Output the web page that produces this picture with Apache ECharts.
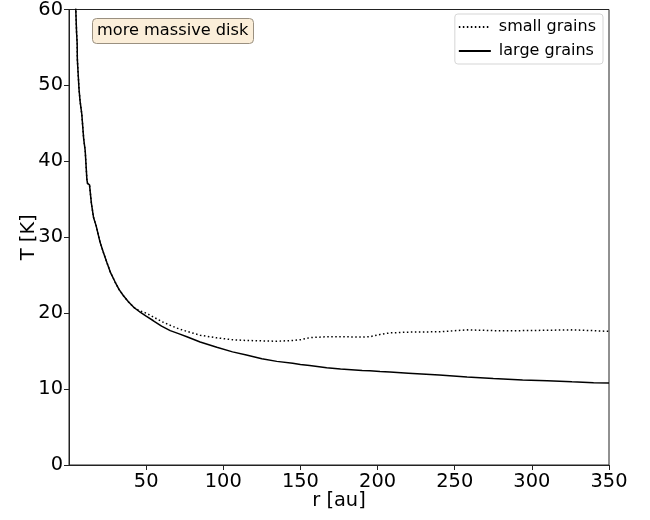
<!DOCTYPE html>
<html>
<head>
<meta charset="utf-8">
<script src="https://cdn.jsdelivr.net/npm/echarts@6/dist/echarts.min.js"></script>
<style>html,body{margin:0;padding:0;background:#fff;}#chart{width:650px;height:520px;}</style>
</head>
<body>
<div id="chart"></div>
<script>
// radius [au]
const rValues = [3.8, 4.4, 4.9, 5.3, 5.4, 5.8, 6.5, 7.2, 8.3, 9.5, 10.5, 11.6, 12.0, 13.3, 14.5, 15.9, 17.6, 20.2, 22.3, 24.5, 27, 29.9, 32.5, 35.3, 38.5, 41.8, 44, 46.1,
  50, 54.7, 60, 65.6, 71, 76.4, 85, 95.8, 106, 115, 125, 134.7, 145, 150, 156, 167, 176, 190, 195, 201.6, 208, 220, 240, 258, 275, 294, 310, 326, 340, 350];
// temperature [K], large grains
const tLarge = [64, 60, 57, 55.5, 53.5, 52, 49.5, 47.9, 46.2, 43, 41.4, 37.6, 37.1, 36.9, 34.5, 32.6, 31.5, 29.3, 28.0, 26.7, 25.3, 24.1, 23.1, 22.3, 21.5, 20.8, 20.45, 20.15,
  19.6, 19.0, 18.3, 17.7, 17.3, 16.9, 16.2, 15.5, 14.9, 14.5, 14.0, 13.65, 13.4, 13.25, 13.1, 12.8, 12.65, 12.45, 12.4, 12.3, 12.25, 12.1, 11.85, 11.6, 11.4, 11.2, 11.1, 10.95, 10.85, 10.8];
// temperature [K], small grains
const tSmall = [64, 60, 57, 55.5, 53.5, 52, 49.5, 47.9, 46.2, 43, 41.4, 37.6, 37.1, 36.9, 34.5, 32.6, 31.5, 29.3, 28.0, 26.7, 25.3, 24.1, 23.1, 22.3, 21.5, 20.8, 20.5, 20.3,
  20.0, 19.5, 18.9, 18.4, 17.95, 17.6, 17.1, 16.75, 16.5, 16.4, 16.35, 16.3, 16.4, 16.5, 16.77, 16.9, 16.9, 16.85, 16.9, 17.2, 17.4, 17.5, 17.55, 17.8, 17.7, 17.7, 17.75, 17.8, 17.7, 17.6];
const xTicks = [50, 100, 150, 200, 250, 300, 350];
const seriesNames = ['small grains', 'large grains'];
const annotation = 'more massive disk';

const font = 'DejaVu Sans';
const pair = (rs, ts) => rs.map((r, i) => [r, ts[i]]);

const chart = echarts.init(document.getElementById('chart'), null, {renderer: 'canvas'});
chart.setOption({
  animation: false,
  title: {
    text: annotation,
    left: 92, top: 18,
    padding: [5, 5, 5, 5],
    backgroundColor: '#fbeed9',
    borderColor: '#9a9080',
    borderWidth: 1,
    borderRadius: 4,
    textStyle: {fontFamily: font, fontSize: 16.2, fontWeight: 'normal', color: '#000'}
  },
  legend: {
    orient: 'vertical',
    right: 47, top: 14,
    padding: [5, 7, 5, 3],
    itemWidth: 32, itemHeight: 13, itemGap: 8,
    backgroundColor: '#fff',
    borderColor: '#d5d5d5', borderWidth: 1, borderRadius: 3,
    itemStyle: {opacity: 0},
    textStyle: {fontFamily: font, fontSize: 16, color: '#000', padding: [0, 0, 0, 3]},
    data: seriesNames
  },
  grid: {left: 69, right: 41, top: 8, bottom: 55, show: true, borderColor: '#222', borderWidth: 1, containLabel: false},
  xAxis: {
    type: 'value', min: 0, max: 350,
    name: 'r [au]', nameLocation: 'middle', nameGap: 26, nameMoveOverlap: false,
    nameTextStyle: {fontFamily: font, fontSize: 19.4, color: '#000'},
    axisLine: {show: true, lineStyle: {color: '#222', width: 1}},
    axisTick: {show: true, length: 5, inside: false, customValues: xTicks, lineStyle: {color: '#222'}},
    axisLabel: {customValues: xTicks, fontFamily: font, fontSize: 19.4, color: '#000', margin: 7},
    splitLine: {show: false}
  },
  yAxis: {
    type: 'value', min: 0, max: 60, interval: 10,
    name: 'T [K]', nameLocation: 'middle', nameGap: 31, nameMoveOverlap: false,
    nameTextStyle: {fontFamily: font, fontSize: 19.4, color: '#000'},
    axisLine: {show: true, lineStyle: {color: '#222', width: 1}},
    axisTick: {show: true, length: 5, lineStyle: {color: '#222'}},
    axisLabel: {fontFamily: font, fontSize: 19.4, color: '#000', margin: 6},
    splitLine: {show: false}
  },
  series: [
    {
      name: seriesNames[0], type: 'line', symbol: 'none', clip: true,
      data: pair(rValues, tSmall),
      lineStyle: {color: '#000', width: 1.5, type: [1.5, 2.5]},
      itemStyle: {color: '#000'}
    },
    {
      name: seriesNames[1], type: 'line', symbol: 'none', clip: true,
      data: pair(rValues, tLarge),
      lineStyle: {color: '#000', width: 1.5, type: 'solid'},
      itemStyle: {color: '#000'}
    }
  ]
});
</script>
</body>
</html>
